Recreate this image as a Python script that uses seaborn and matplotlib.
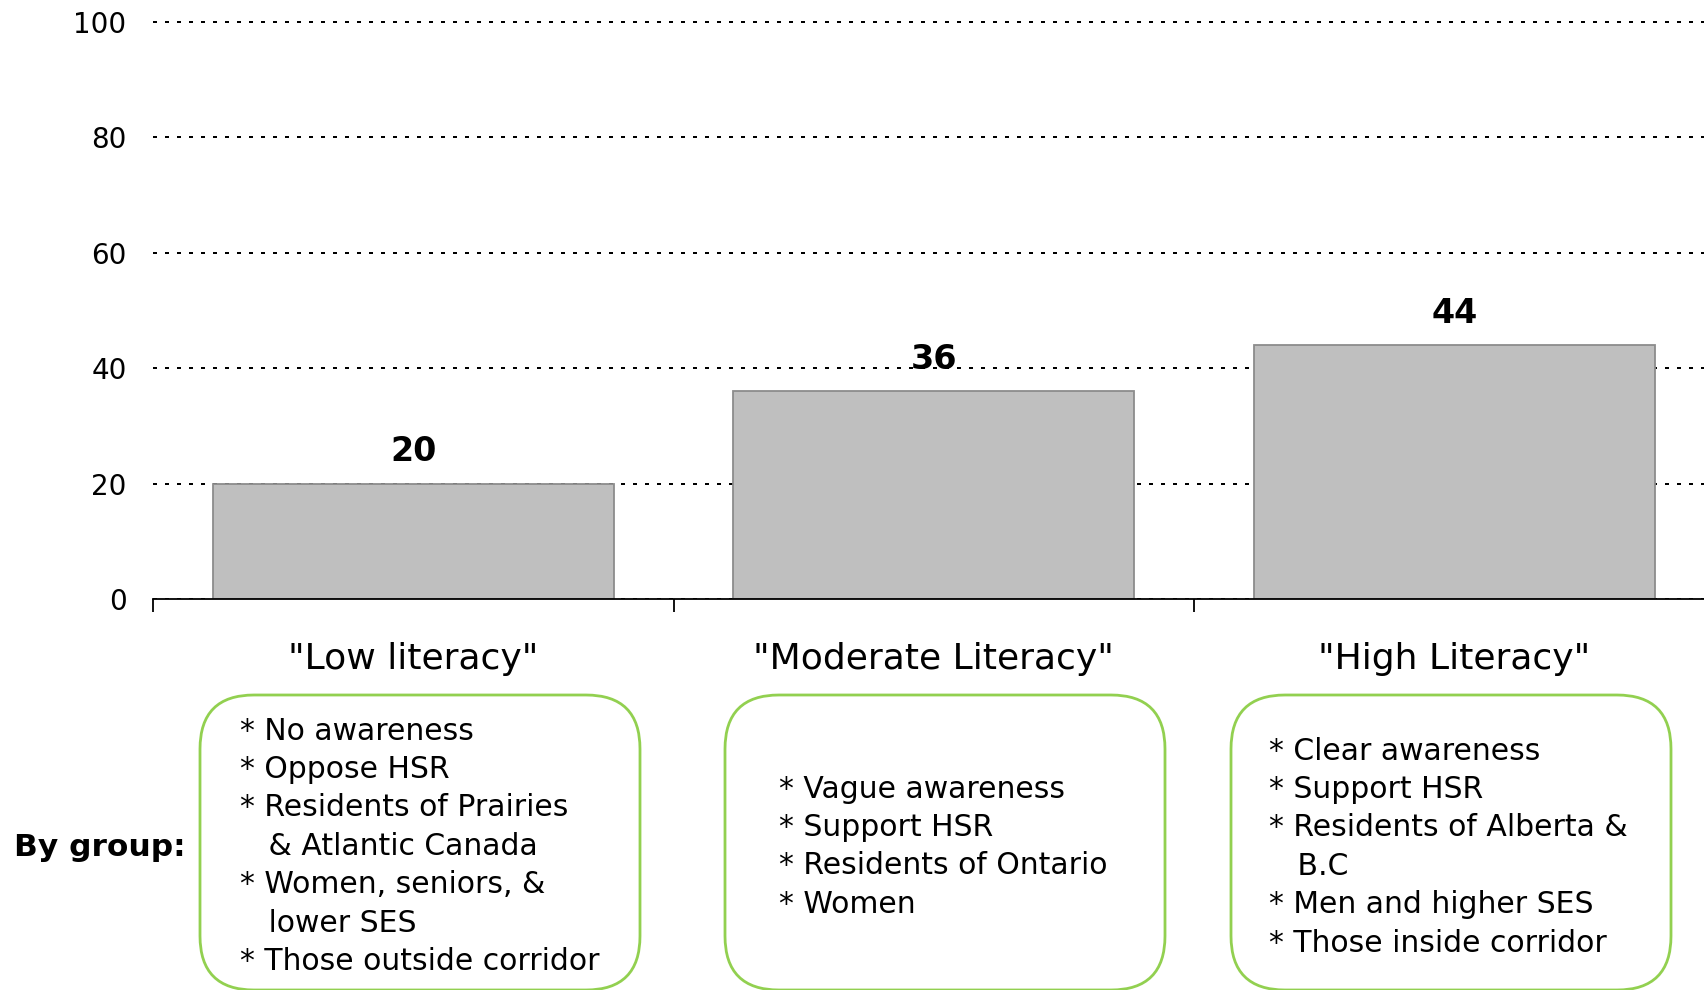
import matplotlib
matplotlib.use("Agg")
import matplotlib.pyplot as plt
from matplotlib.patches import FancyBboxPatch
import seaborn as sns
import pandas as pd

# chart data
categories = ['"Low literacy"', '"Moderate Literacy"', '"High Literacy"']
values = [20, 36, 44]
y_ticks = [0, 20, 40, 60, 80, 100]

low_notes = ["* No awareness", "* Oppose HSR", "* Residents of Prairies",
             "   & Atlantic Canada", "* Women, seniors, &", "   lower SES",
             "* Those outside corridor"]
moderate_notes = ["* Vague awareness", "* Support HSR",
                  "* Residents of Ontario", "* Women"]
high_notes = ["* Clear awareness", "* Support HSR", "* Residents of Alberta &",
              "   B.C", "* Men and higher SES", "* Those inside corridor"]

sns.set_style("white")
plt.rcParams['font.family'] = ['DejaVu Sans']
plt.rcParams['text.color'] = 'black'
plt.rcParams['xtick.color'] = 'black'
plt.rcParams['ytick.color'] = 'black'

W, H = 1704, 990
fig = plt.figure(figsize=(W / 100, H / 100), dpi=100)

# axes placed in pixel terms of the reference
ax_left, ax_bottom, ax_top = 153, 599, 16
ax = fig.add_axes([ax_left / W, 1 - ax_bottom / H, (W - ax_left) / W, (ax_bottom - ax_top) / H])

df = pd.DataFrame({'group': categories, 'pct': values})
sns.barplot(data=df, x='group', y='pct', order=categories, color='#BFBFBF',
            saturation=1, edgecolor='#8C8C8C', linewidth=1.3, width=0.77, ax=ax, zorder=2)

ax.bar_label(ax.containers[0], fmt='%d', padding=11, fontsize=24, fontweight='bold', zorder=3)

ax.set_yticks(y_ticks)
ax.set_yticklabels([str(t) for t in y_ticks], fontsize=20)
ax.yaxis.grid(True, color='black', linestyle=(0, (2, 4)), linewidth=1.44)
ax.set_axisbelow(True)
ax.tick_params(axis='y', length=0, pad=19)

# boundary ticks (major) and category labels (minor)
ax.set_xticks([-0.5, 0.5, 1.5, 2.5])
ax.set_xticklabels([])
ax.set_xticks([0, 1, 2], minor=True)
ax.set_xticklabels(categories, minor=True, fontsize=26)
ax.tick_params(axis='x', which='major', bottom=True, length=9, width=1.3,
               color='black', direction='out')
ax.tick_params(axis='x', which='minor', bottom=True, length=0, pad=31)
ax.set_xlabel('')
ax.set_ylabel('')

# limits after ticks, so set_xticks does not widen them; last category runs off the edge
ax.set_ylim(0, 101)
ax.set_xlim(-0.5, -0.5 + (W - ax_left) / 520.5)

for s in ['left', 'right', 'top']:
    ax.spines[s].set_visible(False)
ax.spines['bottom'].set_color('black')
ax.spines['bottom'].set_linewidth(1.3)

# rounded note boxes under each category
box_lefts = [200, 725, 1231]
box_top, box_bot, box_w = 695, 990, 440
for bx in box_lefts:
    patch = FancyBboxPatch((bx / W, 1 - box_bot / H), box_w / W, (box_bot - box_top) / H,
                           boxstyle="round,pad=0,rounding_size=%f" % (54 / W),
                           mutation_aspect=W / H, transform=fig.transFigure,
                           fill=False, edgecolor='#92D050', linewidth=2, clip_on=False)
    fig.add_artist(patch)

notes = [low_notes, moderate_notes, high_notes]
text_x = [240, 779, 1269]
text_y0 = [731, 789, 751]
for lines, tx, ty in zip(notes, text_x, text_y0):
    for i, line in enumerate(lines):
        fig.text(tx / W, 1 - (ty + i * 38.4) / H, line, fontsize=21.5,
                 ha='left', va='center', color='black')

fig.text(14 / W, 1 - 847 / H, "By group:", fontsize=22.5, fontweight='bold',
         ha='left', va='center')

fig.savefig('out.png', dpi=100)
